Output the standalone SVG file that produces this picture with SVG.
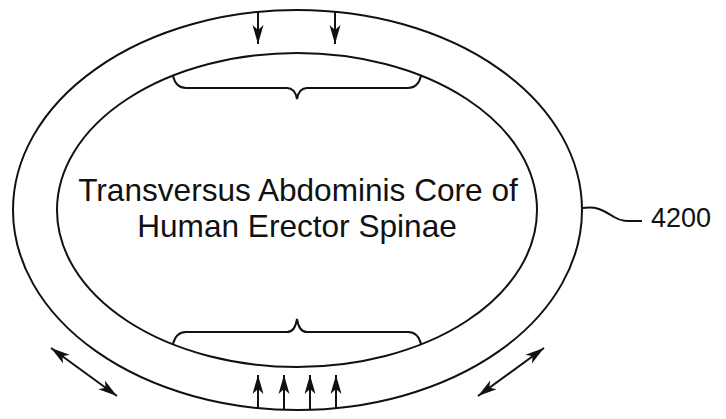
<svg xmlns="http://www.w3.org/2000/svg" width="726" height="419" viewBox="0 0 726 419">
<style>
.ln{fill:none;stroke:#111;stroke-width:2}
.tx{font-family:"Liberation Sans",Arial,sans-serif;fill:#111}
</style>
<defs>
<marker id="ah" markerUnits="userSpaceOnUse" markerWidth="24" markerHeight="16" viewBox="-20 -8 24 16" refX="0" refY="0" orient="auto-start-reverse">
<path d="M0,0 L-19,-5.5 L-14,0 L-19,5.5 Z" fill="#111"/>
</marker>
</defs>
<rect width="726" height="419" fill="#fff"/>
<g id="outer-ring">
<ellipse class="ln" cx="297.5" cy="210" rx="284.5" ry="200"/>
</g>
<g id="core">
<ellipse class="ln" cx="297" cy="210" rx="240" ry="157"/>
<text class="tx" x="298" y="201" font-size="31.6" text-anchor="middle">Transversus Abdominis Core of</text>
<text class="tx" x="297" y="237" font-size="31.6" text-anchor="middle">Human Erector Spinae</text>
</g>
<g id="top-brace">
<path class="ln" d="M173,76 Q176,88 186,88 L287,88 Q295,88 297,99 Q299,88 307,88 L408,88 Q418,88 421,76"/>
</g>
<g id="bottom-brace">
<path class="ln" d="M173,344 Q176,332 186,332 L287,332 Q295,332 297,319 Q299,332 307,332 L408,332 Q418,332 421,344"/>
</g>
<g id="label-4200">
<path class="ln" d="M583,208 C598,206 604,211 614,217 C622,222 630,221 642,221"/>
<text class="tx" x="651" y="227" font-size="27">4200</text>
</g>
<g id="connectors">
<line class="ln" x1="258" y1="12" x2="258" y2="44" marker-end="url(#ah)"/>
<line class="ln" x1="335" y1="12" x2="335" y2="44" marker-end="url(#ah)"/>
<line class="ln" x1="258" y1="408" x2="258" y2="375" marker-end="url(#ah)"/>
<line class="ln" x1="284" y1="409" x2="284" y2="375" marker-end="url(#ah)"/>
<line class="ln" x1="310" y1="409" x2="310" y2="375" marker-end="url(#ah)"/>
<line class="ln" x1="336" y1="408" x2="336" y2="375" marker-end="url(#ah)"/>
<line class="ln" x1="51" y1="348" x2="117" y2="396" marker-start="url(#ah)" marker-end="url(#ah)"/>
<line class="ln" x1="544" y1="348" x2="478" y2="396" marker-start="url(#ah)" marker-end="url(#ah)"/>
</g>
</svg>
